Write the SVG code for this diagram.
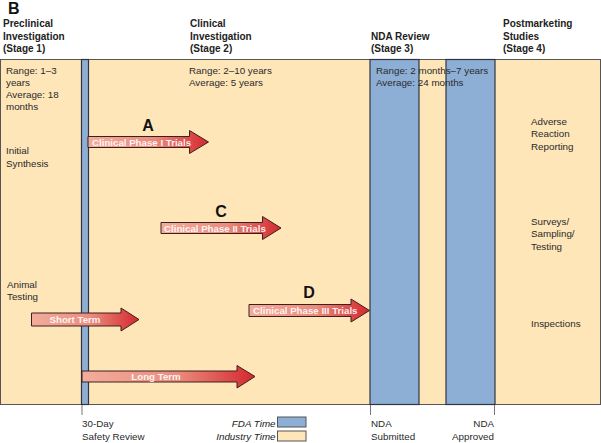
<svg xmlns="http://www.w3.org/2000/svg" width="601" height="443" viewBox="0 0 601 443">
<defs>
<linearGradient id="arrowGrad" x1="0" y1="0" x2="1" y2="0">
<stop offset="0" stop-color="#f3ad9b"/>
<stop offset="0.55" stop-color="#eb8c7d"/>
<stop offset="1" stop-color="#d4282e"/>
</linearGradient>
<style>
.hdr{font-family:"Liberation Sans",Arial,sans-serif;font-size:10px;font-weight:bold;fill:#222}
.big{font-family:"Liberation Sans",Arial,sans-serif;font-size:16px;font-weight:bold;fill:#111}
.txt{font-family:"Liberation Sans",Arial,sans-serif;font-size:9.8px;fill:#2a2a2a}
.lbl{font-family:"Liberation Sans",Arial,sans-serif;font-size:9.7px;font-weight:bold;fill:#fff;fill-opacity:0.92}
.leg{font-family:"Liberation Sans",Arial,sans-serif;font-size:9.8px;font-style:italic;fill:#222}
.fda{fill:#8eafd5;stroke:#2f3540;stroke-width:1.2}
.ind{fill:#fee6b9;stroke:#555;stroke-width:1}
.arrow{fill:url(#arrowGrad);stroke:#3a2020;stroke-width:1}
.tick{stroke:#777;stroke-width:1}
</style>
</defs>
<rect width="601" height="443" fill="#fff"/>
<g id="background">
<rect class="ind" x="0.5" y="59.5" width="600" height="345"/>
<rect class="fda" x="81.5" y="59.5" width="7" height="345"/>
<rect class="fda" x="370" y="59.5" width="49" height="345"/>
<rect class="fda" x="446" y="59.5" width="49" height="345"/>
</g>
<g id="headers">
<text class="big" x="8" y="14">B</text>
<text class="hdr" x="3" y="27">Preclinical</text>
<text class="hdr" x="3" y="39.5">Investigation</text>
<text class="hdr" x="3" y="52">(Stage 1)</text>
<text class="hdr" x="190" y="27">Clinical</text>
<text class="hdr" x="190" y="39.5">Investigation</text>
<text class="hdr" x="190" y="52">(Stage 2)</text>
<text class="hdr" x="371" y="39.5">NDA Review</text>
<text class="hdr" x="371" y="52">(Stage 3)</text>
<text class="hdr" x="503" y="27">Postmarketing</text>
<text class="hdr" x="503" y="39.5">Studies</text>
<text class="hdr" x="503" y="52">(Stage 4)</text>
</g>
<g id="stage1-text">
<text class="txt" x="6" y="74">Range: 1–3</text>
<text class="txt" x="6" y="86">years</text>
<text class="txt" x="6" y="98">Average: 18</text>
<text class="txt" x="6" y="110">months</text>
<text class="txt" x="6" y="154">Initial</text>
<text class="txt" x="6" y="166.5">Synthesis</text>
<text class="txt" x="7" y="287.5">Animal</text>
<text class="txt" x="7" y="299.5">Testing</text>
</g>
<g id="stage2-text">
<text class="txt" x="189" y="74">Range: 2–10 years</text>
<text class="txt" x="189" y="86">Average: 5 years</text>
</g>
<g id="stage3-text">
<text class="txt" x="376" y="74">Range: 2 months–7 years</text>
<text class="txt" x="376" y="86">Average: 24 months</text>
</g>
<g id="stage4-text">
<text class="txt" x="531" y="125">Adverse</text>
<text class="txt" x="531" y="137">Reaction</text>
<text class="txt" x="531" y="149.5">Reporting</text>
<text class="txt" x="531" y="225">Surveys/</text>
<text class="txt" x="531" y="237">Sampling/</text>
<text class="txt" x="531" y="249.5">Testing</text>
<text class="txt" x="531" y="327">Inspections</text>
</g>
<g id="connectors">
<g id="arrow-phase1">
<path class="arrow" d="M88,136.5 H189.5 V130.5 L208.5,142 L189.5,153.5 V147.5 H88 Z"/>
<text class="lbl" x="92" y="145.5">Clinical Phase I Trials</text>
<text class="big" x="148" y="131" text-anchor="middle">A</text>
</g>
<g id="arrow-phase2">
<path class="arrow" d="M161,222.5 H262.5 V216.5 L281,228 L262.5,239.5 V233.5 H161 Z"/>
<text class="lbl" x="164" y="231.5">Clinical Phase II Trials</text>
<text class="big" x="221" y="217" text-anchor="middle">C</text>
</g>
<g id="arrow-phase3">
<path class="arrow" d="M249,304.5 H351 V299 L369.5,310.5 L351,322 V316.5 H249 Z"/>
<text class="lbl" x="253" y="314">Clinical Phase III Trials</text>
<text class="big" x="309" y="298" text-anchor="middle">D</text>
</g>
<g id="arrow-short">
<path class="arrow" d="M31.5,313 H121 V308 L139,319.5 L121,331 V326 H31.5 Z"/>
<text class="lbl" x="75" y="323" text-anchor="middle">Short Term</text>
</g>
<g id="arrow-long">
<path class="arrow" d="M82,371 H237 V365.5 L255,376.5 L237,388 V382 H82 Z"/>
<text class="lbl" x="156" y="380" text-anchor="middle">Long Term</text>
</g>
</g>
<g id="footer">
<line class="tick" x1="82" y1="405" x2="82" y2="415"/>
<text class="txt" x="82" y="427">30-Day</text>
<text class="txt" x="82" y="439.5">Safety Review</text>
<line class="tick" x1="370.5" y1="405" x2="370.5" y2="415"/>
<text class="txt" x="371" y="427">NDA</text>
<text class="txt" x="371" y="439.5">Submitted</text>
<line class="tick" x1="494.5" y1="405" x2="494.5" y2="415"/>
<text class="txt" x="494" y="427" text-anchor="end">NDA</text>
<text class="txt" x="494" y="439.5" text-anchor="end">Approved</text>
</g>
<g id="legend">
<text class="leg" x="275.5" y="426.5" text-anchor="end">FDA Time</text>
<rect x="277.5" y="417" width="28.5" height="10" fill="#8eafd5" stroke="#555" stroke-width="1"/>
<text class="leg" x="275.5" y="440" text-anchor="end">Industry Time</text>
<rect x="277.5" y="431" width="28.5" height="10" fill="#fee6b9" stroke="#555" stroke-width="1"/>
</g>
</svg>
